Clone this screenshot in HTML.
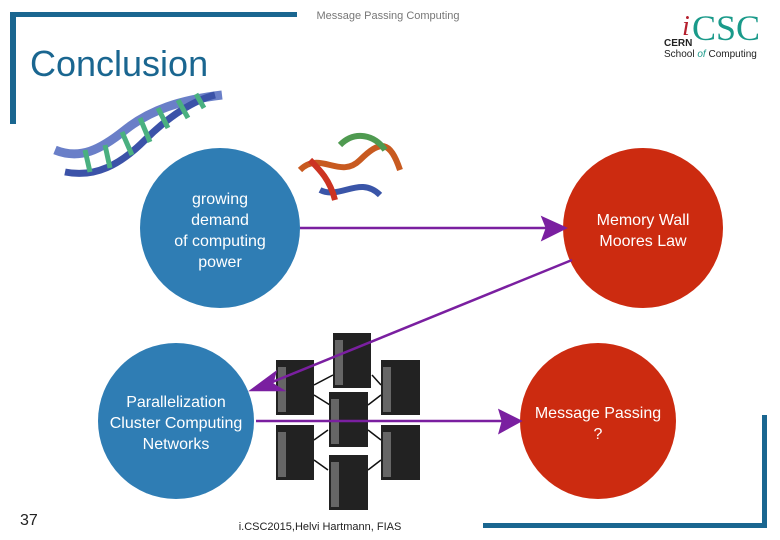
<!DOCTYPE html><html><head><style>body{margin:0}svg{display:block}</style></head><body>
<svg width="780" height="540" xmlns="http://www.w3.org/2000/svg" font-family="Liberation Sans, sans-serif">
<rect width="780" height="540" fill="#fff"/>
<rect x="10" y="12" width="287" height="5" fill="#1a6690"/>
<rect x="10" y="12" width="6" height="112" fill="#1a6690"/>
<rect x="483" y="523" width="284" height="5" fill="#1a6690"/>
<rect x="762" y="415" width="5" height="113" fill="#1a6690"/>
<text x="388" y="19" font-size="11" fill="#777" text-anchor="middle">Message Passing Computing</text>
<text x="30" y="76" font-size="36" fill="#1a6690">Conclusion</text>
<text x="682" y="35" font-size="28" fill="#b5202e" font-family="Liberation Serif, serif" font-style="italic">i</text>
<text x="692" y="40" font-size="36" fill="#1a9a8a" font-family="Liberation Serif, serif">CSC</text>
<text x="664" y="46" font-size="10" font-weight="bold" fill="#222">CERN</text>
<text x="664" y="57" font-size="10" fill="#222">School <tspan fill="#1a9a8a" font-style="italic">of</tspan> Computing</text>
<!-- DNA -->
<g fill="none">
<path d="M55 150 C80 160 100 150 125 130 S180 100 222 95" stroke="#6a7fc8" stroke-width="9"/>
<path d="M65 172 C95 178 120 165 145 140 S195 100 215 95" stroke="#3b52a8" stroke-width="7"/>
<path d="M85 150 L90 172 M105 145 L110 168 M122 132 L132 155 M140 118 L150 142 M158 108 L168 128 M178 100 L188 118 M196 94 L204 108" stroke="#4ab080" stroke-width="5"/>
</g>
<!-- protein -->
<g fill="none" stroke-width="6">
<path d="M300 170 C320 150 340 180 360 160 S390 140 400 170" stroke="#c85a20"/>
<path d="M320 190 C340 200 360 175 380 195" stroke="#3a55a8"/>
<path d="M340 145 C355 130 375 135 385 150" stroke="#4f9a50"/>
<path d="M310 160 C320 170 330 180 335 200" stroke="#cc3322"/>
</g>
<circle cx="220" cy="228" r="80" fill="#2f7db4"/>
<circle cx="643" cy="228" r="80" fill="#cc2b10"/>
<circle cx="176" cy="421" r="78" fill="#2f7db4"/>
<circle cx="598" cy="421" r="78" fill="#cc2b10"/>
<g fill="#fff" font-size="16" text-anchor="middle">
<text x="220" y="204">growing</text><text x="220" y="225">demand</text><text x="220" y="246">of computing</text><text x="220" y="267">power</text>
<text x="643" y="225">Memory Wall</text><text x="643" y="246">Moores Law</text>
<text x="176" y="407">Parallelization</text><text x="176" y="428">Cluster Computing</text><text x="176" y="449">Networks</text>
<text x="598" y="418">Message Passing</text><text x="598" y="439">?</text>
</g>
<!-- towers -->
<g stroke="#111" stroke-width="1.5">
<path d="M314 385 L333 375 M372 375 L381 385 M314 395 L330 405 M368 405 L381 395 M314 440 L328 430 M368 430 L381 440 M314 460 L328 470 M368 470 L381 460"/>
</g>
<g fill="#222">
<rect x="333" y="333" width="38" height="55"/><rect x="276" y="360" width="38" height="55"/><rect x="381" y="360" width="39" height="55"/>
<rect x="329" y="392" width="39" height="55"/><rect x="276" y="425" width="38" height="55"/><rect x="381" y="425" width="39" height="55"/>
<rect x="329" y="455" width="39" height="55"/>
</g>
<g fill="#666">
<rect x="335" y="340" width="8" height="45"/><rect x="278" y="367" width="8" height="45"/><rect x="383" y="367" width="8" height="45"/>
<rect x="331" y="399" width="8" height="45"/><rect x="278" y="432" width="8" height="45"/><rect x="383" y="432" width="8" height="45"/>
<rect x="331" y="462" width="8" height="45"/>
</g>
<!-- arrows -->
<g stroke="#7a1fa0" stroke-width="2.5" fill="#7a1fa0">
<line x1="300" y1="228" x2="550" y2="228"/>
<polygon points="565,228 543,218 547,228 543,239"/>
<line x1="572" y1="260" x2="265" y2="385"/>
<polygon points="252,390 275,373 272,384 282,390"/>
<line x1="256" y1="421" x2="505" y2="421"/>
<polygon points="520,421 500,411 503,421 500,432"/>
</g>
<text x="20" y="525" font-size="16" fill="#222">37</text>
<text x="320" y="530" font-size="11" fill="#222" text-anchor="middle">i.CSC2015,Helvi Hartmann, FIAS</text>
</svg></body></html>
